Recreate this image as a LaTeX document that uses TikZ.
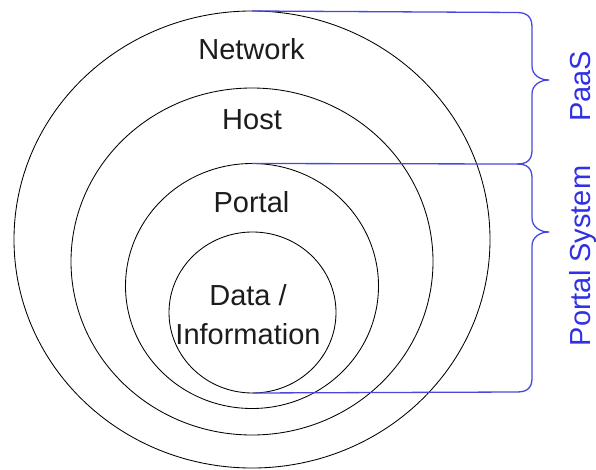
\documentclass[tikz,border=0pt]{standalone}
\usepackage{fontspec}
\setmainfont{Liberation Sans}
\usetikzlibrary{shapes.geometric}
\definecolor{bracecol}{RGB}{72,72,222}
\definecolor{bracetext}{RGB}{48,48,228}
\definecolor{inkcol}{RGB}{28,28,28}
\begin{document}
\begin{tikzpicture}[x=1pt,y=-1pt,
  ring/.style={ellipse,draw=black,line width=0.85pt,inner sep=0pt,outer sep=0pt},
  layerlabel/.style={text=inkcol,font=\fontsize{29}{39}\selectfont,inner sep=0pt,anchor=base},
  bracket/.style={draw=bracecol,line width=1.3pt,line join=round},
  bracelabel/.style={text=bracetext,font=\fontsize{29}{39}\selectfont,inner sep=0pt,anchor=base,rotate=90}]
\useasboundingbox (0,0) rectangle (596,470);

% concentric layers
\node[ring,minimum width=476pt,minimum height=457pt] (net) at (252,239.5) {};
\node[ring,minimum width=362pt,minimum height=347pt] (host) at (252,261.5) {};
\node[ring,minimum width=253pt,minimum height=245pt] (portal) at (252,286) {};
\node[ring,minimum width=167pt,minimum height=161pt] (data) at (252.5,312.5) {};

% layer names
\node[layerlabel] (lnet) at (251.5,60) {Network};
\node[layerlabel] (lhost) at (252,130) {Host};
\node[layerlabel] (lportal) at (251.5,213) {Portal};
\node[layerlabel,align=center] (ldata) at (248,344) {Data /\\Information};

% brace joints on the right
\coordinate (ptop) at (517,12.5);
\coordinate (pmid) at (517,164);
\coordinate (pbot) at (517,392);

% PaaS brace: network top down to portal top
\draw[bracket] (net.north) -- (ptop)
  .. controls (527,12.5) and (532,17) .. (532,27) -- (532,66)
  .. controls (532,75) and (540,80) .. (549,80)
  .. controls (540,80) and (532,85) .. (532,94) -- (532,150)
  .. controls (532,160) and (527,164) .. (pmid) -- (portal.north);

% Portal System brace: portal top down to data bottom
\draw[bracket] (pmid)
  .. controls (527,164) and (532,168) .. (532,178) -- (532,218)
  .. controls (532,227) and (540,232) .. (549,232)
  .. controls (540,232) and (532,237) .. (532,246) -- (532,378)
  .. controls (532,388) and (527,392) .. (pbot) -- (data.south);

% brace captions
\node[bracelabel] (lpaas) at (590,86.5) {PaaS};
\node[bracelabel] (lsys) at (590,256) {Portal System};
\end{tikzpicture}
\end{document}
